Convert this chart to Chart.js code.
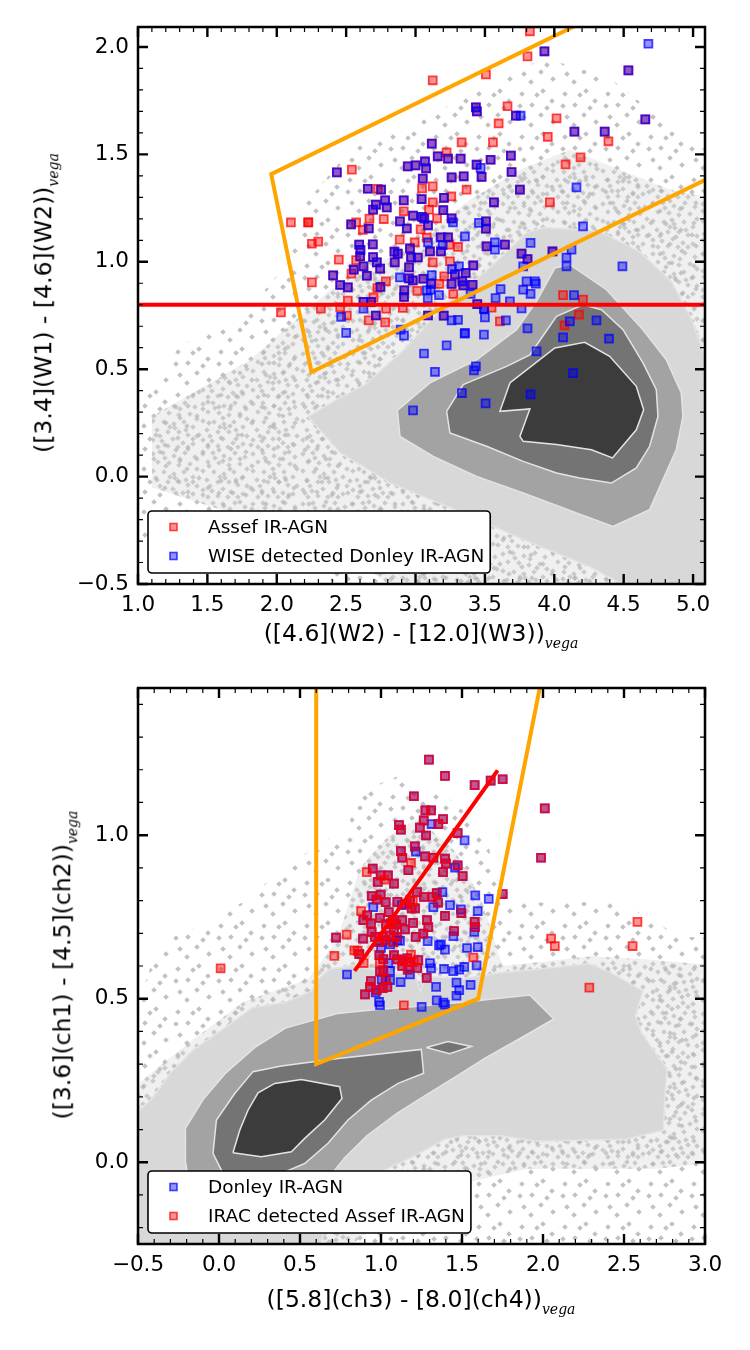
<!DOCTYPE html>
<html>
<head>
<meta charset="utf-8">
<script src="https://cdn.jsdelivr.net/npm/chart.js@4.4.1/dist/chart.umd.min.js"></script>
<style>
  body { margin: 0; background: #fff; width: 750px; height: 1350px; position: relative; overflow: hidden; }
  canvas { position: absolute; left: 0; }
  .ttl { position: absolute; font-family: "DejaVu Sans"; font-size: 23.5px; line-height: 1; color: #000; white-space: nowrap; transform: translate(-50%, -50%); }
  .ttl.rot { transform: translate(-50%, -50%) rotate(-90deg); }
  .ttl i { font-family: "DejaVu Serif"; font-size: 14px; position: relative; top: 7px; line-height: 0; }
</style>
</head>
<body>
<canvas id="wise" width="750" height="660" style="top:0"></canvas>
<canvas id="irac" width="750" height="690" style="top:660px"></canvas>
<div class="ttl" style="left:421px;top:634px">([4.6](W2) - [12.0](W3))<i>vega</i></div>
<div class="ttl rot" style="left:44px;top:303px">([3.4](W1) - [4.6](W2))<i>vega</i></div>
<div class="ttl" style="left:421px;top:1300px">([5.8](ch3) - [8.0](ch4))<i>vega</i></div>
<div class="ttl rot" style="left:63px;top:965px">([3.6](ch1) - [4.5](ch2))<i>vega</i></div>
<script>
// ---------- top panel: WISE colours ----------
const topXTicks = [1.0, 1.5, 2.0, 2.5, 3.0, 3.5, 4.0, 4.5, 5.0];
const topYTicks = [-0.5, 0.0, 0.5, 1.0, 1.5, 2.0];

// Assef and Donley at the same spot (drawn purple)
const topBoth = [[2.433,1.416],[3.117,1.550],[3.160,1.491],[3.234,1.480],[3.325,1.480],[3.068,1.467],[3.0,1.449],[2.944,1.444],[3.076,1.435],[3.052,1.387],[3.260,1.393],[3.347,1.398],[2.656,1.340],[2.752,1.336],[2.781,1.286],[2.714,1.266],[2.694,1.243],[2.793,1.253],[2.915,1.286],[3.044,1.292],[3.205,1.298],[3.200,1.240],[2.982,1.215],[3.047,1.209],[3.063,1.201],[3.260,1.202],[2.536,1.174],[2.663,1.155],[2.888,1.188],[2.937,1.155],[3.090,1.170],[2.594,1.080],[2.603,1.055],[2.692,1.081],[2.960,1.062],[3.181,1.114],[3.234,1.114],[3.104,1.048],[3.183,1.048],[2.601,1.025],[2.694,1.022],[2.721,0.997],[2.745,0.968],[2.625,0.979],[2.555,0.963],[2.406,0.937],[2.848,1.047],[2.872,1.038],[2.850,0.997],[2.968,1.020],[3.016,1.020],[3.284,0.941],[3.361,0.948],[2.953,0.974],[2.953,0.923],[2.980,0.913],[3.056,0.921],[3.112,0.897],[3.260,0.897],[3.337,0.909],[2.649,0.935],[2.457,0.892],[2.512,0.881],[2.747,0.883],[2.919,0.867],[2.917,0.836],[2.625,0.813],[2.680,0.813],[2.714,0.750],[3.090,0.750],[3.203,0.749],[3.929,1.980],[4.534,1.891],[3.435,1.719],[3.442,1.700],[3.723,1.680],[4.656,1.663],[4.145,1.606],[4.363,1.606],[3.541,1.475],[3.687,1.494],[3.440,1.452],[3.476,1.395],[3.692,1.418],[3.752,1.336],[3.565,1.277],[3.507,1.188],[3.507,1.154],[3.512,1.072],[3.644,1.080],[3.987,1.048],[3.764,1.038],[3.807,1.013],[3.416,0.983],[3.445,0.803],[3.411,0.893],[3.344,0.890]];
const topAssefOnly = [[2.541,1.429],[3.332,1.556],[3.224,1.509],[2.728,1.340],[3.047,1.342],[3.124,1.351],[3.368,1.336],[3.124,1.277],[3.258,1.304],[3.097,1.243],[2.915,1.235],[3.155,1.202],[2.668,1.201],[2.771,1.199],[2.572,1.183],[2.620,1.149],[3.037,1.151],[2.102,1.183],[2.227,1.183],[2.227,1.183],[2.253,1.084],[2.299,1.094],[2.886,1.103],[2.994,1.090],[3.081,1.112],[3.243,1.080],[3.306,1.069],[2.447,1.010],[2.572,1.008],[3.124,0.997],[3.248,1.002],[3.207,0.932],[3.171,0.897],[2.538,0.945],[2.253,0.904],[2.786,0.909],[2.725,0.878],[3.013,0.865],[3.272,0.850],[2.697,0.834],[2.512,0.819],[2.318,0.782],[2.457,0.788],[2.788,0.782],[2.908,0.785],[2.030,0.764],[2.505,0.750],[2.663,0.727],[2.781,0.718],[3.824,2.073],[3.807,1.956],[3.124,1.845],[3.507,1.872],[3.663,1.724],[3.599,1.644],[4.016,1.668],[3.953,1.582],[4.390,1.561],[3.558,1.556],[4.189,1.486],[4.081,1.453],[3.968,1.277],[4.063,0.845],[4.207,0.824],[4.178,0.754],[4.073,0.704],[3.548,0.786],[3.608,0.723]];
const topDonleyOnly = [[3.270,1.183],[3.090,1.090],[3.196,1.078],[3.356,1.118],[3.313,0.979],[3.263,0.966],[2.888,0.927],[3.117,0.938],[3.081,0.867],[3.109,0.870],[3.169,0.845],[3.088,0.830],[2.625,0.782],[2.464,0.744],[3.260,0.727],[3.306,0.730],[3.356,0.669],[2.500,0.669],[2.893,0.684],[2.917,0.656],[4.678,2.015],[3.757,1.680],[3.469,1.437],[4.160,1.346],[3.457,1.181],[4.207,1.165],[3.829,1.088],[3.572,1.090],[3.572,1.056],[4.124,1.056],[4.088,1.020],[4.088,0.979],[4.491,0.979],[3.776,0.979],[3.800,0.909],[3.860,0.909],[3.867,0.898],[3.776,0.870],[3.829,0.851],[4.142,0.845],[3.613,0.873],[3.577,0.831],[3.680,0.816],[3.764,0.783],[3.495,0.780],[3.397,0.850],[4.112,0.723],[4.304,0.727],[4.063,0.648],[4.394,0.642],[3.872,0.583],[4.135,0.482],[3.829,0.383],[3.807,0.690],[3.493,0.782],[3.500,0.741],[3.651,0.727],[3.493,0.661],[3.354,0.665],[3.224,0.611],[3.435,0.513],[3.421,0.494],[3.140,0.488],[3.334,0.389],[3.505,0.341],[2.982,0.308],[3.061,0.573]];

// Mateos wedge and W1-W2 >= 0.8 cut
const topWedge = [[4.40,2.177],[1.960,1.408],[2.250,0.487],[5.30,1.448]];
const topCut = [[0.9,0.8],[5.3,0.8]];

// field galaxies: scatter envelope and density contours (outer to inner)
const topCloudSparse = [[0.9,0.36],[1.018,0.358],[1.306,0.614],[1.737,0.731],[2.097,1.010],[2.169,1.243],[2.529,1.522],[2.888,1.615],[3.392,1.778],[3.896,1.941],[4.327,1.894],[4.687,1.708],[5.083,1.522],[5.2,1.5],[5.2,-0.6],[2.745,-0.6],[2.169,-0.410],[1.450,-0.317],[1.018,-0.293],[0.9,-0.29]];
const topCloudDense = [[1.1,0.28],[1.809,0.544],[2.385,0.870],[3.032,1.102],[3.392,1.289],[3.752,1.429],[4.112,1.522],[4.471,1.429],[4.831,1.336],[5.2,1.29],[5.2,-0.6],[3.0,-0.6],[2.385,-0.293],[1.809,-0.2],[1.1,-0.05]];
const topLevel1 = [[2.227,0.279],[2.406,0.349],[2.637,0.428],[2.917,0.591],[3.227,0.810],[3.536,0.973],[3.802,1.136],[3.932,1.160],[4.327,1.141],[4.615,1.047],[4.845,0.907],[4.989,0.731],[5.083,0.568],[5.227,0.358],[5.227,-0.667],[4.615,-0.667],[4.493,-0.503],[4.255,-0.419],[3.774,-0.293],[3.342,-0.169],[2.817,-0.029],[2.457,0.111]];
const topLevel2 = [[2.869,0.308],[3.104,0.436],[3.440,0.544],[3.728,0.684],[3.872,0.816],[4.004,0.971],[4.112,0.987],[4.376,0.870],[4.639,0.684],[4.807,0.544],[4.915,0.389],[4.927,0.280],[4.879,0.125],[4.783,-0.014],[4.687,-0.154],[4.423,-0.232],[4.160,-0.169],[3.776,-0.076],[3.440,0.001],[3.128,0.094],[2.888,0.187]];
const topLevel3 = [[3.224,0.304],[3.344,0.428],[3.656,0.513],[3.824,0.567],[4.016,0.746],[4.207,0.800],[4.340,0.777],[4.495,0.684],[4.639,0.529],[4.735,0.405],[4.747,0.280],[4.687,0.141],[4.591,0.040],[4.411,-0.030],[4.183,-0.007],[4.016,0.017],[3.776,0.071],[3.512,0.141],[3.248,0.203]];
const topLevel4 = [[3.680,0.436],[4.004,0.599],[4.219,0.625],[4.399,0.560],[4.591,0.420],[4.644,0.311],[4.591,0.218],[4.419,0.087],[4.268,0.125],[4.016,0.149],[3.776,0.164],[3.752,0.187],[3.824,0.315],[3.608,0.304]];

// ---------- bottom panel: IRAC colours ----------
const botXTicks = [-0.5, 0.0, 0.5, 1.0, 1.5, 2.0, 2.5, 3.0];
const botYTicks = [0.0, 0.5, 1.0];

const botBoth = [[1.677,1.167],[1.751,1.171],[1.296,1.231],[1.395,1.181],[1.578,1.153],[1.203,1.119],[1.274,1.076],[1.309,1.076],[1.383,1.049],[1.354,1.034],[1.264,1.045],[1.111,1.031],[1.123,1.017],[1.240,1.023],[1.278,0.999],[1.473,1.006],[1.209,0.966],[1.123,0.951],[1.131,0.931],[1.272,0.935],[1.323,0.931],[1.395,0.928],[1.401,0.913],[1.473,0.908],[1.383,0.887],[1.504,0.875],[1.169,0.893],[0.949,0.898],[0.998,0.877],[1.043,0.877],[0.980,0.857],[1.080,0.852],[0.943,0.814],[0.998,0.818],[0.973,0.803],[1.029,0.795],[1.101,0.796],[1.154,0.789],[1.189,0.776],[1.210,0.776],[1.179,0.801],[1.222,0.826],[1.265,0.811],[1.317,0.811],[1.344,0.823],[1.352,0.794],[1.395,0.753],[1.496,0.762],[1.751,0.820],[0.915,0.755],[0.891,0.740],[0.994,0.747],[1.048,0.765],[1.072,0.740],[0.938,0.730],[1.031,0.727],[1.060,0.730],[1.093,0.727],[1.131,0.740],[1.198,0.732],[1.284,0.740],[1.292,0.719],[1.578,0.735],[1.580,0.719],[1.451,0.707],[0.722,0.687],[0.889,0.684],[0.942,0.704],[0.963,0.689],[0.990,0.673],[1.010,0.689],[1.025,0.679],[1.056,0.694],[1.080,0.709],[1.097,0.689],[1.076,0.673],[1.148,0.712],[1.214,0.689],[1.261,0.699],[0.866,0.636],[0.990,0.633],[1.014,0.621],[1.080,0.633],[1.101,0.620],[1.134,0.615],[1.162,0.623],[1.230,0.618],[1.224,0.594],[1.165,0.589],[1.131,0.600],[1.175,0.612],[0.994,0.583],[1.014,0.587],[1.029,0.560],[1.039,0.536],[0.938,0.554],[0.932,0.536],[1.282,0.564],[0.901,0.513],[0.973,0.526],[1.010,0.532],[1.988,0.931],[2.011,1.082]];
const botAssefOnly = [[1.185,0.915],[0.912,0.887],[1.020,0.864],[1.196,0.798],[0.877,0.768],[0.788,0.696],[0.712,0.631],[0.835,0.648],[0.856,0.646],[0.893,0.609],[0.993,0.611],[1.185,0.635],[1.202,0.612],[1.570,0.626],[1.141,0.480],[0.010,0.593],[2.286,0.534],[2.583,0.735],[2.553,0.661],[2.050,0.684],[2.073,0.661]];
const botDonleyOnly = [[1.312,1.034],[1.516,0.984],[1.215,0.950],[1.457,0.901],[0.952,0.780],[1.128,0.786],[1.379,0.826],[1.323,0.780],[1.426,0.786],[1.493,0.773],[1.582,0.816],[1.665,0.805],[1.597,0.768],[1.576,0.704],[1.447,0.691],[1.288,0.676],[1.000,0.655],[1.056,0.666],[1.101,0.679],[1.117,0.677],[1.358,0.663],[1.370,0.666],[1.395,0.650],[1.531,0.655],[1.597,0.658],[1.302,0.609],[1.309,0.593],[1.389,0.591],[1.446,0.584],[1.483,0.589],[1.514,0.597],[1.590,0.602],[1.179,0.574],[0.790,0.574],[1.045,0.609],[1.056,0.585],[1.004,0.559],[1.056,0.557],[1.121,0.551],[1.466,0.549],[1.553,0.542],[0.967,0.519],[1.340,0.536],[1.483,0.526],[1.466,0.509],[1.344,0.495],[1.385,0.488],[1.395,0.482],[0.988,0.490],[0.994,0.480],[1.251,0.475]];

// Donley wedge and fitted trend
const botWedge = [[0.6,1.6],[0.6,0.3],[1.6,0.5],[2.04,1.6]];
const botTrend = [[0.837,0.585],[1.72,1.198]];

const botCloudSparse = [[-0.6,0.477],[-0.5,0.477],[-0.413,0.613],[-0.322,0.681],[-0.093,0.726],[0.181,0.805],[0.410,0.907],[0.639,0.975],[0.799,1.032],[0.867,1.133],[1.096,1.179],[1.279,1.145],[1.462,1.100],[1.645,0.998],[1.736,0.839],[1.919,0.794],[2.193,0.794],[2.422,0.805],[2.650,0.749],[2.833,0.692],[3.1,0.68],[3.1,-0.3],[-0.6,-0.3]];
const botCloudDense = [[-0.6,0.2],[-0.2,0.36],[0.15,0.49],[0.55,0.56],[0.73,0.68],[0.87,0.9],[1.05,1.0],[1.23,1.05],[1.46,0.95],[1.62,0.8],[1.75,0.6],[2.3,0.63],[2.65,0.62],[3.1,0.6],[3.1,0.0],[2.7,-0.02],[1.9,-0.02],[1.2,-0.1],[0.7,-0.3],[-0.6,-0.3]];
const botLevel1 = [[-0.6,0.110],[-0.413,0.195],[-0.299,0.274],[-0.162,0.342],[-0.002,0.398],[0.204,0.472],[0.410,0.489],[0.570,0.523],[0.604,0.557],[0.684,0.590],[0.821,0.602],[1.050,0.579],[1.210,0.574],[1.244,0.523],[1.279,0.568],[1.507,0.562],[1.736,0.579],[1.965,0.590],[2.285,0.607],[2.422,0.579],[2.616,0.523],[2.570,0.449],[2.605,0.398],[2.765,0.285],[2.753,0.206],[2.742,0.098],[2.513,0.070],[1.965,0.064],[1.736,0.081],[1.507,0.081],[1.393,0.070],[1.187,0.014],[0.936,-0.043],[0.730,-0.111],[0.593,-0.292],[0.58,-0.3],[-0.6,-0.3]];
const botLevel2 = [[-0.207,0.104],[-0.093,0.195],[0.044,0.274],[0.227,0.353],[0.410,0.410],[0.730,0.455],[0.959,0.466],[1.233,0.477],[1.507,0.489],[1.919,0.511],[2.067,0.438],[1.850,0.376],[1.645,0.319],[1.462,0.262],[1.279,0.206],[1.096,0.149],[0.913,0.081],[0.776,0.014],[0.684,-0.043],[0.64,-0.07],[-0.18,-0.07],[-0.207,0.0]];
const botLevel3 = [[-0.037,0.027],[-0.016,0.129],[0.097,0.210],[0.210,0.277],[0.385,0.294],[0.735,0.317],[1.249,0.345],[1.263,0.272],[1.105,0.241],[0.940,0.190],[0.796,0.129],[0.673,0.058],[0.529,-0.004],[0.385,-0.034],[0.035,-0.044]];
const botLevel3b = [[1.280,0.351],[1.414,0.369],[1.558,0.354],[1.424,0.332]];
const botLevel4 = [[0.086,0.029],[0.128,0.098],[0.179,0.159],[0.241,0.212],[0.344,0.241],[0.508,0.253],[0.745,0.231],[0.759,0.195],[0.652,0.129],[0.529,0.073],[0.447,0.032],[0.261,0.017]];

// ---------- drawing helpers ----------
const FONT = 'DejaVu Sans';
const RED_FILL = 'rgba(255,0,0,0.42)', RED_EDGE = 'rgba(255,0,0,0.72)';
const BLUE_FILL = 'rgba(0,0,255,0.42)', BLUE_EDGE = 'rgba(0,0,255,0.72)';
const EDGE = '#e4e4e4';

// speckle texture standing in for the many faint field-galaxy markers
function speckle(size, spots, dot, wash) {
  const c = document.createElement('canvas');
  c.width = size; c.height = size;
  const g = c.getContext('2d');
  if (wash) { g.fillStyle = wash; g.fillRect(0, 0, size, size); }
  g.fillStyle = dot;
  spots.forEach(([px, py]) => {
    g.beginPath();
    g.moveTo(px, py - 2.8); g.lineTo(px + 2.8, py); g.lineTo(px, py + 2.8); g.lineTo(px - 2.8, py);
    g.closePath(); g.fill();
  });
  return g.createPattern(c, 'repeat');
}
const sparseSpots = [[6,8],[27,5],[16,19],[36,15],[8,31],[25,29],[37,36],[15,39],[31,22],[21,9],[4,20]];
const denseSpots = [[3,4],[13,3],[24,6],[35,3],[45,7],[8,12],[19,13],[29,15],[40,14],[47,19],[3,21],[14,22],[24,24],[34,22],[43,27],[7,30],[18,32],[29,32],[38,35],[47,36],[3,40],[12,41],[23,39],[33,43],[43,44],[8,47],[18,46],[28,47],[38,47],[15,8],[30,9],[10,36],[25,28],[36,30],[20,27]];
const SPARSE = speckle(43, sparseSpots, 'rgba(178,178,178,0.8)', null);
const DENSE = speckle(50, denseSpots, 'rgba(176,176,176,0.6)', 'rgba(212,212,212,0.35)');

const xy = pts => pts.map(([x, y]) => ({x, y}));
const closed = pts => pts.concat([pts[0]]);

function area(pts, bg, edge, order) {
  return { type: 'line', data: xy(closed(pts)), fill: 'shape', backgroundColor: bg,
    borderColor: edge || 'rgba(0,0,0,0)', borderWidth: edge ? 1.5 : 0,
    pointRadius: 0, tension: 0, order };
}
function path(pts, color, width, order) {
  return { type: 'line', data: xy(pts), fill: false, borderColor: color, borderWidth: width,
    borderJoinStyle: 'miter', pointRadius: 0, tension: 0, order };
}
function marks(pts, fill, edge, order) {
  return { type: 'scatter', data: xy(pts), pointStyle: 'rect', pointRadius: 5.6,
    backgroundColor: fill, borderColor: edge, borderWidth: 1.8, order };
}

const fmt = v => (v < 0 ? '\u2212' : '') + Math.abs(v).toFixed(1);

function axis(min, max, ticks, fit) {
  return {
    type: 'linear', min, max,
    afterBuildTicks: s => { s.ticks = ticks.map(value => ({value})); },
    afterFit: fit,
    grid: { display: false, drawTicks: false },
    border: { display: false },
    ticks: { callback: fmt, color: '#000', font: { family: FONT, size: 21.5 }, autoSkip: false, maxRotation: 0, padding: 9 }
  };
}

// inward major/minor ticks on all four sides plus the frame
const frame = {
  id: 'frame',
  afterDraw(chart) {
    const { ctx, chartArea: a, scales: { x, y } } = chart;
    const majors = chart.options.plugins.frame;
    ctx.save();
    ctx.strokeStyle = '#000';
    const run = (scale, list, len, lw, vertical) => {
      ctx.lineWidth = lw;
      list.forEach(v => {
        const p = scale.getPixelForValue(v);
        ctx.beginPath();
        if (vertical) {
          ctx.moveTo(p, a.bottom); ctx.lineTo(p, a.bottom - len);
          ctx.moveTo(p, a.top); ctx.lineTo(p, a.top + len);
        } else {
          ctx.moveTo(a.left, p); ctx.lineTo(a.left + len, p);
          ctx.moveTo(a.right, p); ctx.lineTo(a.right - len, p);
        }
        ctx.stroke();
      });
    };
    const minors = (scale, maj) => {
      const out = [];
      for (let i = Math.ceil(scale.min * 10 - 1e-6); i <= Math.floor(scale.max * 10 + 1e-6); i++) {
        const v = i / 10;
        if (!maj.some(m => Math.abs(m - v) < 1e-6)) out.push(v);
      }
      return out;
    };
    const xMaj = majors.x.filter(v => v >= x.min - 1e-6 && v <= x.max + 1e-6);
    const yMaj = majors.y;
    run(x, minors(x, xMaj), 5, 1.2, true);
    run(y, minors(y, yMaj), 5, 1.2, false);
    run(x, xMaj, 10, 2.4, true);
    run(y, yMaj, 10, 2.4, false);
    ctx.lineWidth = 2.5;
    ctx.strokeRect(a.left, a.top, a.right - a.left, a.bottom - a.top);
    ctx.restore();
  }
};

// matplotlib style legend box inside the lower left corner
const boxLegend = {
  id: 'boxLegend',
  afterDraw(chart) {
    const { ctx, chartArea: a } = chart;
    const items = chart.options.plugins.boxLegend.items;
    ctx.save();
    ctx.font = '18.5px "' + FONT + '"';
    const w = 66 + Math.max(...items.map(it => ctx.measureText(it.label).width));
    const h = 62, left = a.left + 10, top = a.bottom - 11 - h;
    ctx.beginPath();
    ctx.roundRect(left, top, w, h, 4);
    ctx.fillStyle = '#fff'; ctx.fill();
    ctx.lineWidth = 1.6; ctx.strokeStyle = '#000'; ctx.stroke();
    items.forEach((it, i) => {
      const cy = top + 16 + i * 29;
      ctx.fillStyle = it.fill; ctx.strokeStyle = it.edge; ctx.lineWidth = 1.6;
      ctx.fillRect(left + 22, cy - 3.5, 7, 7);
      ctx.strokeRect(left + 22, cy - 3.5, 7, 7);
      ctx.fillStyle = '#000'; ctx.textBaseline = 'middle';
      ctx.fillText(it.label, left + 60, cy + 1);
    });
    ctx.restore();
  }
};

function build(id, cfg) {
  return new Chart(document.getElementById(id), {
    type: 'scatter',
    data: { datasets: cfg.datasets },
    options: {
      responsive: false, animation: false, devicePixelRatio: 1, events: [],
      layout: { padding: cfg.padding },
      scales: {
        x: axis(cfg.x[0], cfg.x[1], cfg.xTicks, s => { s.height = 50; }),
        y: axis(cfg.y[0], cfg.y[1], cfg.yTicks, s => { s.width = 138; })
      },
      plugins: {
        legend: { display: false }, tooltip: { enabled: false },
        frame: { x: cfg.xTicks, y: cfg.yTicks },
        boxLegend: { items: cfg.legend }
      }
    },
    plugins: [frame, boxLegend]
  });
}

build('wise', {
  padding: { left: 0, top: 27, right: 45, bottom: 26 },
  x: [1.0, 5.086], y: [-0.5, 2.093], xTicks: topXTicks, yTicks: topYTicks,
  datasets: [
    marks(topAssefOnly.concat(topBoth), RED_FILL, RED_EDGE, 3),
    marks(topDonleyOnly.concat(topBoth), BLUE_FILL, BLUE_EDGE, 2),
    area(topCloudSparse, SPARSE, null, 20),
    area(topCloudDense, DENSE, null, 19),
    area(topLevel1, '#d8d8d8', EDGE, 18),
    area(topLevel2, '#a3a3a3', EDGE, 17),
    area(topLevel3, '#747474', EDGE, 16),
    area(topLevel4, '#3c3c3c', EDGE, 15),
    path(topWedge, '#ffa500', 4, 1),
    path(topCut, '#ff0000', 4, 0)
  ],
  legend: [
    { label: 'Assef IR-AGN', fill: RED_FILL, edge: RED_EDGE },
    { label: 'WISE detected Donley IR-AGN', fill: BLUE_FILL, edge: BLUE_EDGE }
  ]
});

build('irac', {
  padding: { left: 0, top: 28, right: 45, bottom: 56 },
  x: [-0.5, 3.0], y: [-0.25, 1.45], xTicks: botXTicks, yTicks: botYTicks,
  datasets: [
    marks(botDonleyOnly.concat(botBoth), BLUE_FILL, BLUE_EDGE, 3),
    marks(botAssefOnly.concat(botBoth), RED_FILL, RED_EDGE, 2),
    area(botCloudSparse, SPARSE, null, 20),
    area(botCloudDense, DENSE, null, 19),
    area(botLevel1, '#d8d8d8', EDGE, 18),
    area(botLevel2, '#a3a3a3', EDGE, 17),
    area(botLevel3, '#747474', EDGE, 16),
    area(botLevel3b, '#747474', EDGE, 16),
    area(botLevel4, '#3c3c3c', EDGE, 15),
    path(botWedge, '#ffa500', 4, 1),
    path(botTrend, '#ff0000', 4, 0)
  ],
  legend: [
    { label: 'Donley IR-AGN', fill: BLUE_FILL, edge: BLUE_EDGE },
    { label: 'IRAC detected Assef IR-AGN', fill: RED_FILL, edge: RED_EDGE }
  ]
});
</script>
</body>
</html>
